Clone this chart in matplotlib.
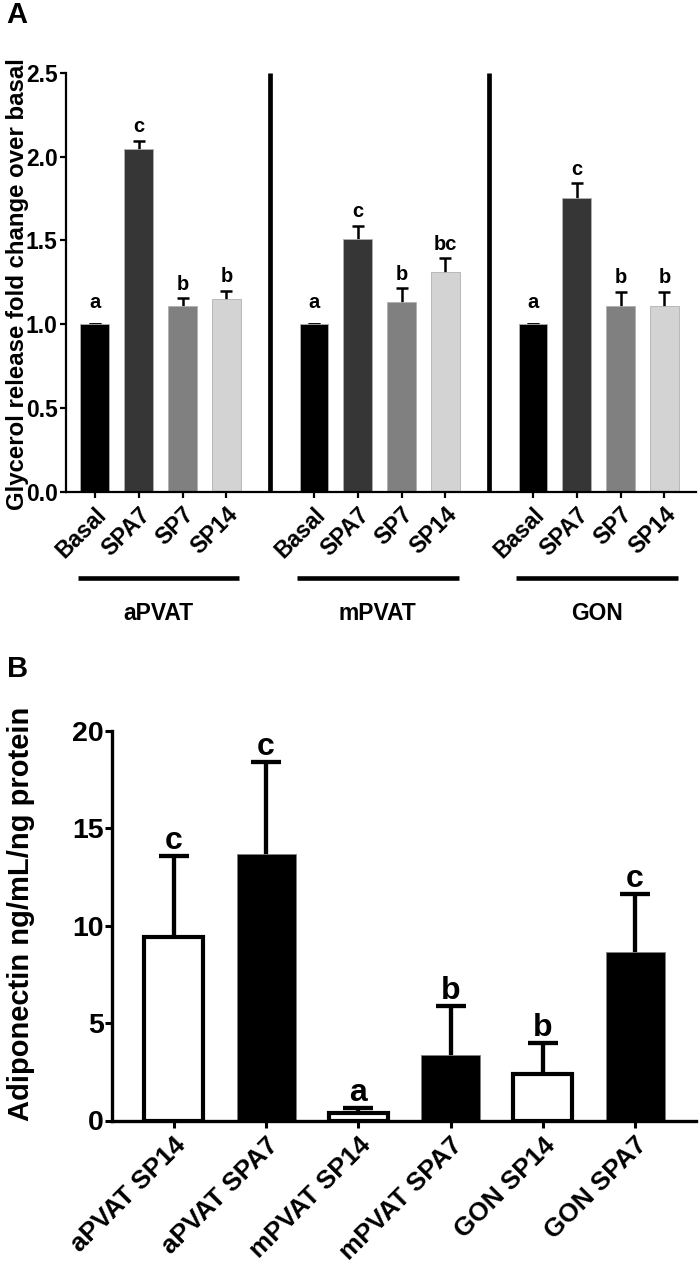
import numpy as np
import matplotlib
matplotlib.use('Agg')
from matplotlib import pyplot as plt

plt.rcParams['font.family'] = ['Liberation Sans', 'DejaVu Sans']
plt.rcParams['font.weight'] = 'bold'

# Panel A: glycerol release, fold change over basal
groups_a = ['aPVAT', 'mPVAT', 'GON']
treatments = ['Basal', 'SPA7', 'SP7', 'SP14']
glycerol_mean = [
    [1.0, 2.045, 1.108, 1.153],   # aPVAT
    [1.0, 1.508, 1.134, 1.311],   # mPVAT
    [1.0, 1.754, 1.110, 1.110],   # GON
]
glycerol_sem = [
    [0.0, 0.050, 0.048, 0.047],
    [0.0, 0.080, 0.080, 0.083],
    [0.0, 0.088, 0.085, 0.085],
]
letters_a = [
    ['a', 'c', 'b', 'b'],
    ['a', 'c', 'b', 'bc'],
    ['a', 'c', 'b', 'b'],
]
treat_colors = ['#000000', '#363636', '#808080', '#d3d3d3']

# Panel B: adiponectin
labels_b = ['aPVAT SP14', 'aPVAT SPA7', 'mPVAT SP14', 'mPVAT SPA7',
            'GON SP14', 'GON SPA7']
adipo_mean = [9.41, 13.69, 0.37, 3.36, 2.38, 8.66]
adipo_sem = [4.18, 4.71, 0.25, 2.52, 1.62, 2.99]
letters_b = ['c', 'c', 'a', 'b', 'b', 'c']
fill_b = ['white', 'black', 'white', 'black', 'white', 'black']

W, H = 699, 1272
fig = plt.figure(figsize=(W / 100, H / 100), dpi=100)

# ---------------- panel A ----------------
axA = fig.add_axes([66 / W, 1 - 491.7 / H, 630 / W, 418.7 / H])
xpos = []
for g in range(len(groups_a)):
    x = np.arange(4) + 5 * g
    xpos.append(x)
    axA.errorbar(x, glycerol_mean[g], yerr=glycerol_sem[g], fmt='none',
                 ecolor='black', elinewidth=1.8, capsize=4, capthick=1.8,
                 zorder=1)
    axA.bar(x, glycerol_mean[g], width=0.66, color=treat_colors,
            edgecolor='#b0b0b0', linewidth=0.6, zorder=2)
    for i in range(4):
        top = glycerol_mean[g][i] + glycerol_sem[g][i]
        off = 6 if glycerol_sem[g][i] > 0 else 12
        axA.annotate(letters_a[g][i], (x[i], top), xytext=(0, off),
                     textcoords='offset points', ha='center', va='baseline',
                     fontsize=14.5, fontweight='bold')

# thick separators between tissues
for s in [4, 9]:
    axA.plot([s, s], [0, 2.5], color='black', lw=3.4, solid_capstyle='butt',
             zorder=3)

allx = np.concatenate(xpos)
axA.set_xticks(allx)
axA.set_xticklabels(treatments * 3, rotation=45, ha='right',
                    rotation_mode='anchor', fontsize=16.5, fontweight='bold')
axA.set_xlim(-0.66, 13.72)
axA.set_ylim(0, 2.5)
axA.set_yticks([0, 0.5, 1.0, 1.5, 2.0, 2.5])
axA.set_yticklabels(['0.0', '0.5', '1.0', '1.5', '2.0', '2.5'],
                    fontsize=16.5, fontweight='bold')
for side in ['top', 'right']:
    axA.spines[side].set_visible(False)
for side in ['left', 'bottom']:
    axA.spines[side].set_linewidth(1.6)
axA.tick_params(axis='both', width=1.6, length=4, pad=2)
axA.tick_params(axis='x', pad=4)
axA.set_ylabel('Glycerol release fold change over basal', fontsize=17.3,
               fontweight='bold')
axA.yaxis.set_label_coords(-0.059, 0.497)

tr = axA.get_xaxis_transform()
for g, name in enumerate(groups_a):
    axA.plot([xpos[g][0] - 0.38, xpos[g][-1] + 0.30], [-0.206, -0.206],
             color='black', lw=3.3, transform=tr, clip_on=False,
             solid_capstyle='butt')
    axA.text(xpos[g].mean() - 0.05, -0.292, name, transform=tr,
             ha='center', va='center', fontsize=16.5, fontweight='bold')

# ---------------- panel B ----------------
axB = fig.add_axes([112 / W, 1 - 1120.5 / H, 584 / W, 389.5 / H])
xb = np.arange(len(labels_b))
axB.errorbar(xb, adipo_mean, yerr=adipo_sem, fmt='none', ecolor='black',
             elinewidth=3.1, capsize=11, capthick=3.1, zorder=1)
axB.bar(xb, adipo_mean, width=0.64, color=fill_b,
        edgecolor=['black' if c == 'white' else '#808080' for c in fill_b],
        linewidth=[3.0 if c == 'white' else 0.6 for c in fill_b], zorder=2)
for i in range(len(xb)):
    axB.annotate(letters_b[i], (xb[i], adipo_mean[i] + adipo_sem[i]),
                 xytext=(0, 5), textcoords='offset points', ha='center',
                 va='baseline', fontsize=23, fontweight='bold')

axB.set_xticks(xb)
axB.set_xticklabels(labels_b, rotation=45, ha='right', rotation_mode='anchor',
                    fontsize=18.8, fontweight='bold')
axB.set_xlim(-0.67, 5.66)
axB.set_ylim(0, 20)
axB.set_yticks([0, 5, 10, 15, 20])
axB.set_yticklabels(['0', '5', '10', '15', '20'], fontsize=20.5,
                    fontweight='bold')
for side in ['top', 'right']:
    axB.spines[side].set_visible(False)
for side in ['left', 'bottom']:
    axB.spines[side].set_linewidth(2.4)
axB.tick_params(axis='both', width=2.2, length=5, pad=1)
axB.tick_params(axis='x', pad=4)
axB.set_ylabel('Adiponectin ng/mL/ng protein', fontsize=21, fontweight='bold')
axB.yaxis.set_label_coords(-0.132, 0.531)

fig.text(6 / W, 1 - 1 / H, 'A', ha='left', va='top', fontsize=21,
         fontweight='bold')
fig.text(7 / W, 1 - 655 / H, 'B', ha='left', va='top', fontsize=21,
         fontweight='bold')

fig.savefig('out.png', dpi=100)
